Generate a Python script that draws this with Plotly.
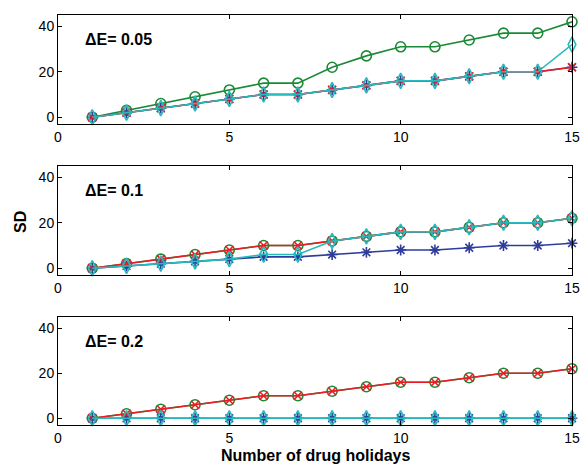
import plotly.graph_objects as go

x = list(range(1, 16))

panel_labels = ["ΔE= 0.05", "ΔE= 0.1", "ΔE= 0.2"]

# Panel 1 (ΔE = 0.05)
p1_blue = [0, 2, 4, 6, 8, 10, 10, 12, 14, 16, 16, 18, 20, 20, 22]
p1_red = [0, 2, 4, 6, 8, 10, 10, 12, 14, 16, 16, 18, 20, 20, 22]
p1_green = [0, 3, 6, 9, 12, 15, 15, 22, 27, 31, 31, 34, 37, 37, 42]
p1_cyan = [0, 2, 4, 6, 8, 10, 10, 12, 14, 16, 16, 18, 20, 20, 32]

# Panel 2 (ΔE = 0.1)
p2_blue = [0, 1, 2, 3, 4, 5, 5, 6, 7, 8, 8, 9, 10, 10, 11]
p2_red = [0, 2, 4, 6, 8, 10, 10, 12, 14, 16, 16, 18, 20, 20, 22]
p2_green = [0, 2, 4, 6, 8, 10, 10, 12, 14, 16, 16, 18, 20, 20, 22]
p2_cyan = [0, 1, 2, 3, 4, 6, 6, 12, 14, 16, 16, 18, 20, 20, 22]

# Panel 3 (ΔE = 0.2)
p3_blue = [0] * 15
p3_red = [0, 2, 4, 6, 8, 10, 10, 12, 14, 16, 16, 18, 20, 20, 22]
p3_green = [0, 2, 4, 6, 8, 10, 10, 12, 14, 16, 16, 18, 20, 20, 22]
p3_cyan = [0] * 15

x_ticks = [0, 5, 10, 15]
y_ticks = [0, 20, 40]

panels = [
    (p1_blue, p1_red, p1_green, p1_cyan),
    (p2_blue, p2_red, p2_green, p2_cyan),
    (p3_blue, p3_red, p3_green, p3_cyan),
]

BLUE = "#2e3d9c"
RED = "#ec1c24"
GREEN = "#1b8a36"
CYAN = "#27b9bd"

H = 410.0
domains = [
    [301 / H, 1.0],
    [150 / H, 259 / H],
    [0.0, 108 / H],
]

fig = go.Figure()
font = "Liberation Sans, Arial, Helvetica, sans-serif"

for i, (b, r, g, c) in enumerate(panels):
    n = "" if i == 0 else str(i + 1)
    xa = "x" + n
    ya = "y" + n
    series = [
        (g, GREEN, "circle-open", 10),
        (b, BLUE, "asterisk-open", 9),
        (r, RED, "x-thin-open", 8),
        (c, CYAN, "diamond-tall-open", 11),
    ]
    for vals, col, sym, sz in series:
        fig.add_trace(go.Scatter(
            x=x, y=vals, xaxis=xa, yaxis=ya, mode="lines+markers", cliponaxis=False,
            line=dict(color=col, width=1.6),
            marker=dict(symbol=sym, size=sz, color=col, line=dict(width=1.6, color=col)),
            showlegend=False,
        ))
    axcommon = dict(showline=True, linecolor="black", linewidth=1, mirror="ticks",
                    ticks="inside", ticklen=4, tickcolor="black", showgrid=False,
                    zeroline=False, automargin=False,
                    tickfont=dict(family=font, size=14, color="black"))
    fig.layout["xaxis" + n] = dict(domain=[0, 1], anchor=ya, range=[0, 15],
                                   tickvals=x_ticks, **axcommon)
    fig.layout["yaxis" + n] = dict(domain=domains[i], anchor=xa, range=[-3, 45],
                                   tickvals=y_ticks, **axcommon)
    fig.add_annotation(text="<b>" + panel_labels[i] + "</b>", xref=xa, yref=ya,
                       x=0.72, y=34, xanchor="left", yanchor="middle", showarrow=False,
                       font=dict(family=font, size=16, color="black"))

fig.add_annotation(text="<b>Number of drug holidays</b>", xref="paper", yref="paper",
                   x=0.5, y=-0.075, xanchor="center", yanchor="middle", showarrow=False,
                   font=dict(family=font, size=16, color="black"))
fig.add_annotation(text="<b>SD</b>", xref="paper", yref="paper", textangle=-90,
                   x=-0.074, y=0.495, xanchor="center", yanchor="middle", showarrow=False,
                   font=dict(family=font, size=16, color="black"))

fig.update_layout(width=583, height=465, margin=dict(l=58, r=11, t=15, b=40),
                  plot_bgcolor="white", paper_bgcolor="white")

fig.write_html("out.html", config={"displayModeBar": False},
               post_script="document.body.style.margin='0';document.body.style.overflow='hidden';")
